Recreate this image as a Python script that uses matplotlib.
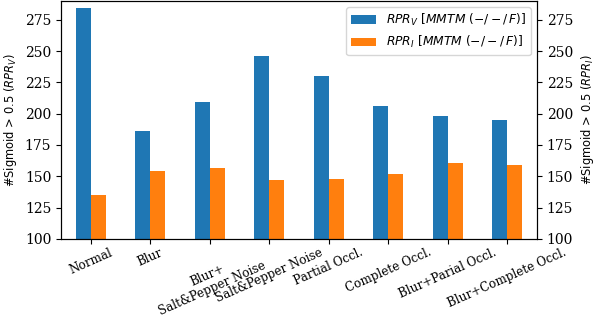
import numpy as np
import matplotlib
matplotlib.use('Agg')
import matplotlib.pyplot as plt

# catégories et valeurs
categories = ['Normal', 'Blur', 'Blur+\nSalt&Pepper Noise', 'Salt&Pepper Noise',
              'Partial Occl.', 'Complete Occl.', 'Blur+Parial Occl.', 'Blur+Complete Occl.']
rpr_v = [284, 186, 209, 246, 230, 206, 198, 195]
rpr_i = [135, 154, 157, 147, 148, 152, 161, 159]

fig = plt.figure(figsize=(5.98, 3.19), dpi=100)
ax = fig.add_axes([0.102, 0.251, 0.796, 0.746])

x = np.arange(len(categories))
w = 0.25
ax.bar(x - w / 2, rpr_v, w, color='#1f77b4', label=r'$RPR_V\ [MMTM\ (-/-/\,F)]$')
ax.bar(x + w / 2, rpr_i, w, color='#ff7f0e', label=r'$RPR_I\ [MMTM\ (-/-/\,F)]$')

ax.set_xlim(-0.5, len(categories) - 0.5)
ax.set_ylim(100, 290)
ax.set_xticks(x)
ax.set_xticklabels(categories, rotation=24, ha='center', family='DejaVu Serif',
                   fontsize=8.6, linespacing=1.1)
ax.tick_params(axis='x', pad=1.5)
for lab in ax.get_yticklabels():
    lab.set_family('DejaVu Serif')
ax.set_ylabel(r'#Sigmoid > 0.5 ($RPR_V$)', fontsize=8.3)
ax.legend(loc='upper right', fontsize=8.8)

# axe de droite avec les mêmes limites
ax2 = ax.twinx()
ax2.set_ylim(ax.get_ylim())
for lab in ax2.get_yticklabels():
    lab.set_family('DejaVu Serif')
ax2.set_ylabel(r'#Sigmoid > 0.5 ($RPR_I$)', fontsize=8.3)

fig.savefig('out.png', dpi=100)
